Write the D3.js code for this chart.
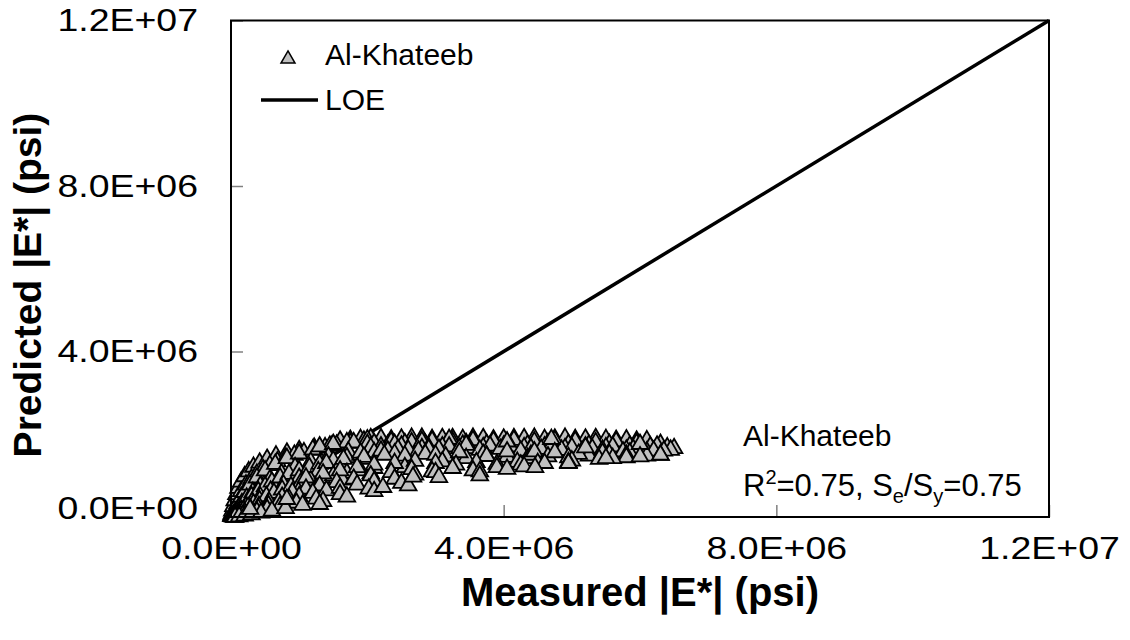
<!DOCTYPE html>
<html>
<head>
<meta charset="utf-8">
<script src="https://cdn.jsdelivr.net/npm/d3@7"></script>
<style>
  html, body { margin: 0; padding: 0; background: #fff; }
  svg { display: block; }
  text { font-family: Arial, "Liberation Sans", sans-serif; }
</style>
</head>
<body>
<svg id="chart" width="1130" height="640"></svg>
<script>
// ---- data (values in millions of psi) ----
const measured = [
  // curve L (top flat)
  1.75,2.05,2.35,2.65,2.95,3.25,3.55,3.85,4.15,4.45,4.75,5.05,5.35,5.65,5.95,6.3,
  // curve H
  1.6,1.9,2.2,2.5,2.8,3.1,3.4,3.7,4.0,4.3,4.6,4.9,5.2,5.5,5.8,6.1,
  // curve G
  0.005,0.01,0.02,0.035,0.055,0.08,0.11,0.15,0.2,0.26,0.33,0.42,0.53,0.66,0.82,1.0,1.22,1.48,
  // curve S
  0.15,0.22,0.3,0.38,0.47,0.57,0.68,0.8,0.93,1.07,1.22,1.38,1.55,1.75,1.95,
  // curve A
  0.01,0.02,0.04,0.07,0.1,0.15,0.2,0.28,0.38,0.5,0.65,0.82,1.0,1.2,1.45,1.7,2.0,
  // curve M
  1.3,1.5,1.8,2.0,2.3,2.55,2.85,3.15,3.45,3.75,4.05,4.35,4.65,4.95,5.25,5.55,5.85,6.15,6.4,
  // curve I
  2.1,2.35,2.65,2.95,3.25,3.55,3.85,4.15,4.45,4.75,5.05,5.35,5.65,5.95,6.25,6.5,
  // curve B
  0.02,0.04,0.07,0.11,0.16,0.23,0.32,0.43,0.57,0.74,0.94,1.17,1.43,1.72,2.05,2.4,2.8,3.2,
  // curve V
  2.2,2.5,2.8,3.1,3.4,3.7,4.0,4.3,4.6,4.9,5.2,5.5,5.8,6.1,
  // curve T
  0.3,0.4,0.5,0.6,0.72,0.85,1.0,1.15,1.3,1.5,1.7,1.9,2.1,2.3,
  // curve J
  2.6,2.9,3.2,3.5,3.8,4.1,4.4,4.7,5.0,5.3,5.6,5.9,6.2,6.45,
  // curve N
  1.9,2.2,2.45,2.75,3.05,3.35,3.65,3.95,4.25,4.55,4.85,5.15,5.45,5.75,6.05,6.35,
  // curve C
  0.03,0.06,0.1,0.15,0.22,0.31,0.43,0.58,0.77,1.0,1.28,1.6,1.97,2.4,2.9,3.45,4.05,4.7,
  // curve O
  1.4,1.65,1.95,2.25,2.55,2.85,3.15,3.45,3.75,4.05,4.35,4.65,4.95,5.25,5.55,5.85,
  // curve K
  3.0,3.35,3.7,4.05,4.4,4.75,5.1,5.45,5.8,6.1,
  // curve R
  0.1,0.18,0.25,0.33,0.42,0.52,0.63,0.75,0.88,1.02,1.17,1.33,1.5,1.7,1.9,2.1,
  // curve D
  0.04,0.08,0.13,0.2,0.29,0.41,0.56,0.75,0.99,1.28,1.63,2.05,2.55,3.1,3.75,4.45,5.2,6.0,
  // curve P
  1.1,1.35,1.6,1.85,2.1,2.4,2.7,3.0,3.3,3.6,3.9,4.2,4.5,
  // curve Q
  0.9,1.1,1.3,1.55,1.8,2.05,2.35,2.65,2.95,3.25,3.55,3.9,4.25,4.6,5.0,5.4,5.8,
  // curve U
  0.4,0.55,0.7,0.85,1.0,1.2,1.4,1.6,1.85,2.1,2.4,2.7,3.0,
  // curve E
  0.05,0.1,0.17,0.26,0.38,0.53,0.72,0.96,1.25,1.6,2.02,2.5,3.05,3.65,4.3,4.95,5.6,6.3,
  // curve F
  0.06,0.12,0.2,0.3,0.44,0.6,0.8,1.05,1.35,1.7,2.1,2.6,
  // scattered low points
  0.28,0.82,1.3,2.23,2.67,3.65,4.05,4.46,4.95,5.5,6.0,6.3
];
const predicted = [
  1.86,1.9,1.87,1.91,1.88,1.9,1.91,1.87,1.9,1.91,1.89,1.88,1.9,1.86,1.84,1.76,
  1.84,1.88,1.9,1.89,1.91,1.9,1.88,1.9,1.89,1.9,1.88,1.91,1.89,1.88,1.87,1.85,
  0.03,0.07,0.15,0.26,0.4,0.55,0.7,0.85,0.98,1.1,1.21,1.31,1.4,1.48,1.55,1.61,1.67,1.72,
  0.62,0.78,0.92,1.04,1.15,1.25,1.34,1.42,1.5,1.56,1.62,1.68,1.74,1.79,1.84,
  0.02,0.05,0.12,0.22,0.33,0.48,0.6,0.78,0.95,1.12,1.28,1.42,1.53,1.63,1.72,1.8,1.87,
  1.7,1.76,1.8,1.76,1.74,1.78,1.76,1.74,1.78,1.76,1.8,1.74,1.78,1.76,1.74,1.76,1.72,1.7,1.68,
  1.78,1.82,1.8,1.84,1.82,1.85,1.83,1.86,1.82,1.85,1.83,1.8,1.82,1.78,1.72,1.66,
  0.02,0.06,0.13,0.22,0.33,0.46,0.6,0.75,0.9,1.05,1.2,1.33,1.46,1.58,1.68,1.76,1.83,1.88,
  1.7,1.72,1.66,1.7,1.74,1.68,1.72,1.68,1.7,1.66,1.7,1.68,1.62,1.58,
  0.5,0.62,0.74,0.85,0.95,1.04,1.12,1.2,1.28,1.36,1.44,1.5,1.56,1.6,
  1.62,1.68,1.7,1.66,1.72,1.7,1.66,1.72,1.68,1.65,1.7,1.64,1.6,1.62,
  1.55,1.6,1.64,1.6,1.64,1.66,1.62,1.64,1.6,1.64,1.62,1.6,1.62,1.58,1.56,1.6,
  0.01,0.04,0.09,0.16,0.25,0.36,0.49,0.63,0.78,0.94,1.1,1.25,1.4,1.53,1.64,1.74,1.82,1.88,
  1.3,1.4,1.45,1.5,1.48,1.52,1.46,1.42,1.48,1.45,1.42,1.46,1.44,1.48,1.52,1.55,
  1.5,1.56,1.52,1.58,1.5,1.56,1.52,1.55,1.5,1.48,
  0.08,0.16,0.24,0.32,0.4,0.5,0.58,0.66,0.74,0.82,0.88,0.94,1.0,1.06,1.12,1.18,
  0.01,0.03,0.06,0.11,0.18,0.26,0.36,0.48,0.61,0.75,0.9,1.05,1.2,1.34,1.47,1.58,1.68,1.76,
  0.95,1.05,1.12,1.2,1.26,1.3,1.35,1.3,1.26,1.32,1.28,1.33,1.3,
  0.6,0.68,0.76,0.84,0.92,1.0,1.08,1.15,1.1,1.18,1.12,1.2,1.26,1.3,1.36,1.4,1.44,
  0.2,0.28,0.36,0.44,0.5,0.58,0.64,0.7,0.78,0.86,0.92,1.02,1.08,
  0.0,0.02,0.04,0.08,0.13,0.19,0.26,0.34,0.44,0.55,0.68,0.82,0.96,1.1,1.22,1.32,1.42,1.5,
  0.0,0.01,0.03,0.06,0.1,0.15,0.21,0.29,0.38,0.49,0.62,0.76,
  0.19,0.43,0.31,0.72,0.97,1.0,1.16,1.2,1.3,1.42,1.46,1.5
];
const loeLine = [[0, 0], [12, 12]];
const tickValues = [0, 4, 8, 12];
const tickLabels = ["0.0E+00", "4.0E+06", "8.0E+06", "1.2E+07"];
const seriesName = "Al-Khateeb";
const lineName = "LOE";
const statsTitle = "Al-Khateeb";

// ---- layout ----
const svg = d3.select("#chart");
const m = { left: 231, top: 20.5, right: 1049, bottom: 517 };
const x = d3.scaleLinear().domain([0, 12]).range([m.left, m.right]);
const y = d3.scaleLinear().domain([0, 12]).range([m.bottom, m.top]);

// axes (ticks inside)
const xAxis = d3.axisBottom(x).tickValues(tickValues)
  .tickFormat((d, i) => tickLabels[i]).tickSizeInner(-12).tickSizeOuter(0).tickPadding(19);
const yAxis = d3.axisLeft(y).tickValues(tickValues)
  .tickFormat((d, i) => tickLabels[i]).tickSizeInner(-12).tickSizeOuter(0).tickPadding(33);

const gx = svg.append("g").attr("transform", `translate(0,${m.bottom})`).call(xAxis);
const gy = svg.append("g").attr("transform", `translate(${m.left},0)`).call(yAxis);
[gx, gy].forEach(g => {
  g.select(".domain").remove();
  g.selectAll(".tick line").attr("stroke", "#808080").attr("stroke-width", 1.5);
  g.selectAll(".tick text").attr("fill", "#000").style("font-size", "32px")
    .style("font-family", "Arial, 'Liberation Sans', sans-serif")
    .each(function () {
      const w = this.getComputedTextLength();
      d3.select(this).attr("textLength", w * 1.17).attr("lengthAdjust", "spacingAndGlyphs");
    });
});
gy.selectAll(".tick text").filter(d => d === 0).attr("dy", "0.05em");

// LOE line (behind the points)
svg.append("path").datum(loeLine)
  .attr("d", d3.line().x(d => x(d[0])).y(d => y(d[1])))
  .attr("stroke", "#000").attr("stroke-width", 3.5).attr("fill", "none");

// points
const pts = measured.map((v, i) => [v, predicted[i]]);
const tri = d3.symbol().type(d3.symbolTriangle).size(120);
svg.append("g").selectAll("path").data(pts).join("path")
  .attr("d", tri)
  .attr("transform", d => `translate(${x(d[0])},${y(d[1])})`)
  .attr("fill", "#c0c0c0").attr("stroke", "#000").attr("stroke-width", 1.8);

// frame
svg.append("rect").attr("x", m.left).attr("y", m.top)
  .attr("width", m.right - m.left).attr("height", m.bottom - m.top)
  .attr("fill", "none").attr("stroke", "#000").attr("stroke-width", 2);

// legend
const lg = svg.append("g");
lg.append("path").attr("d", d3.symbol().type(d3.symbolTriangle).size(85))
  .attr("transform", "translate(288,59)")
  .attr("fill", "#c0c0c0").attr("stroke", "#000").attr("stroke-width", 1.5);
lg.append("text").attr("x", 325).attr("y", 65).style("font-size", "30px").text(seriesName);
lg.append("line").attr("x1", 261).attr("x2", 318).attr("y1", 100).attr("y2", 100)
  .attr("stroke", "#000").attr("stroke-width", 3.5);
lg.append("text").attr("x", 325).attr("y", 110).style("font-size", "30px").text(lineName);

// stats annotation
svg.append("text").attr("x", 743).attr("y", 446).style("font-size", "30px").text(statsTitle);
const st = svg.append("text").attr("x", 743).attr("y", 496).style("font-size", "31px");
st.append("tspan").text("R");
st.append("tspan").attr("dy", -12).style("font-size", "20px").text("2");
st.append("tspan").attr("dy", 12).text("=0.75, S");
st.append("tspan").attr("dy", 7).style("font-size", "20px").text("e");
st.append("tspan").attr("dy", -7).text("/S");
st.append("tspan").attr("dy", 7).style("font-size", "20px").text("y");
st.append("tspan").attr("dy", -7).text("=0.75");

// axis titles
svg.append("text").attr("x", 640).attr("y", 606).attr("text-anchor", "middle")
  .style("font-size", "40px").style("font-weight", "bold").text("Measured |E*| (psi)");
svg.append("text").attr("transform", "translate(41,285) rotate(-90)").attr("text-anchor", "middle")
  .style("font-size", "39px").style("font-weight", "bold").text("Predicted |E*| (psi)");
</script>
</body>
</html>
